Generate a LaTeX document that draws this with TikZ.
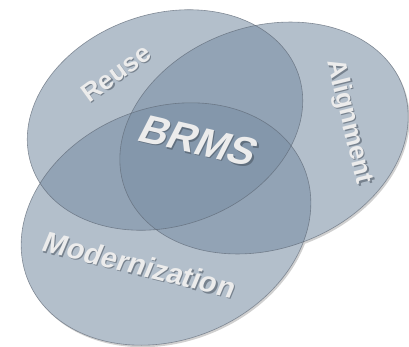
\documentclass[tikz,border=0pt]{standalone}
\usepackage{fontspec}
\setmainfont{Liberation Sans}
\definecolor{venn}{RGB}{122,143,165}
\definecolor{rim}{RGB}{208,208,208}
\definecolor{edge}{RGB}{95,105,118}
\definecolor{txt}{RGB}{236,236,236}
\definecolor{txtsh}{RGB}{70,80,92}
\begin{document}
\begin{tikzpicture}[x=1pt,y=1pt,
  posR/.style={shift={(165,226)},rotate=19},
  posA/.style={shift={(264,208)},rotate=20},
  posM/.style={shift={(166,122)},rotate=22},
  shadowfill/.style={fill=rim},
  basefill/.style={fill=white},
  setfill/.style={fill=venn,fill opacity=0.57},
  setedge/.style={draw=edge,line width=0.6pt,draw opacity=0.7},
  lab/.style={text=txt,inner sep=0pt},
  labsh/.style={text=txtsh,inner sep=0pt,text opacity=0.55}]
\useasboundingbox (0,0) rectangle (409,346);
% soft rim / shadow
\path[shadowfill,shift={(1.5,-2)},posR] (0,0) ellipse [x radius=141pt,y radius=106pt];
\path[shadowfill,shift={(1.5,-2)},posA] (0,0) ellipse [x radius=148pt,y radius=111pt];
\path[shadowfill,shift={(1.5,-2)},posM] (0,0) ellipse [x radius=149pt,y radius=116pt];
% opaque base
\path[basefill,posR] (0,0) ellipse [x radius=141pt,y radius=106pt];
\path[basefill,posA] (0,0) ellipse [x radius=148pt,y radius=111pt];
\path[basefill,posM] (0,0) ellipse [x radius=149pt,y radius=116pt];
% translucent sets
\path[setfill,posR] (0,0) ellipse [x radius=141pt,y radius=106pt];
\path[setfill,posA] (0,0) ellipse [x radius=148pt,y radius=111pt];
\path[setfill,posM] (0,0) ellipse [x radius=149pt,y radius=116pt];
% outlines
\path[setedge,posR] (0,0) ellipse [x radius=141pt,y radius=106pt];
\path[setedge,posA] (0,0) ellipse [x radius=148pt,y radius=111pt];
\path[setedge,posM] (0,0) ellipse [x radius=149pt,y radius=116pt];
% labels with soft shadows
\node[labsh,rotate=36] (reuseS) at (117.3,271.8) {\bfseries\fontsize{26}{26}\selectfont Reuse};
\node[lab,rotate=36] (reuse) at (116,273) {\bfseries\fontsize{26}{26}\selectfont Reuse};
\node[labsh,rotate=-76] (alignS) at (350.3,222.8) {\bfseries\fontsize{26}{26}\selectfont Alignment};
\node[lab,rotate=-76] (align) at (349,224) {\bfseries\fontsize{26}{26}\selectfont Alignment};
\node[labsh,rotate=-13,xslant=0.25] (brmsS) at (200.5,203.5) {\bfseries\fontsize{40}{40}\selectfont BRMS};
\node[lab,rotate=-13,xslant=0.25] (brms) at (199,205) {\bfseries\fontsize{40}{40}\selectfont BRMS};
\node[labsh,rotate=-14,xslant=0.15] (modS) at (141.3,79.8) {\bfseries\fontsize{29}{29}\selectfont Modernization};
\node[lab,rotate=-14,xslant=0.15] (mod) at (140,81) {\bfseries\fontsize{29}{29}\selectfont Modernization};
\end{tikzpicture}
\end{document}
